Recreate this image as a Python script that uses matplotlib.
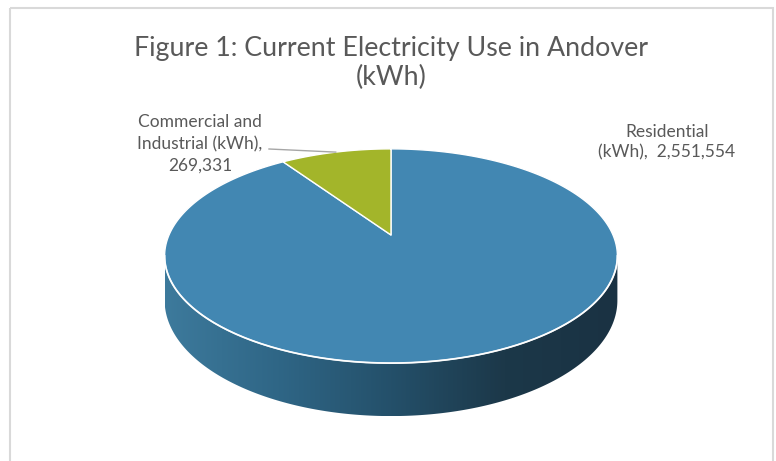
import numpy as np
import matplotlib.pyplot as plt
from matplotlib.patches import Polygon, Rectangle
from matplotlib.colors import LinearSegmentedColormap

plt.rcParams['font.family'] = ['Lato', 'DejaVu Sans']

title = 'Figure 1: Current Electricity Use in Andover\n(kWh)'
labels = ['Residential\n(kWh),  2,551,554', 'Commercial and\nIndustrial (kWh),\n269,331']
values = [2551554, 269331]
colors = ['#4287b2', '#a3b52a']
text_col = '#595959'

W, H = 776, 461
fig = plt.figure(figsize=(W / 100, H / 100), dpi=100)
ax = fig.add_axes([0, 0, 1, 1])
ax.set_xlim(0, W)
ax.set_ylim(H, 0)
ax.axis('off')

# chart frame
ax.add_patch(Rectangle((9.5, 8.5), 763.5, 480, fill=False, ec='#d9d9d9', lw=1.5))

# 3d pie: unit disk seen in perspective
cx, cy = 391, 235
sx, sy, k = 222, 103, 0.196
h0 = 42.6


def proj(phi, drop=0.0):
    X = np.sin(phi)
    Z = np.cos(phi)
    d = 1 + k * Z
    return cx + sx * X / d, cy - sy * Z / d + drop / d


# side wall (near half)
pa = np.arccos(-k)
pb = 2 * np.pi - pa
t = np.linspace(pa, pb, 200)
tx, ty = proj(t)
bx, by = proj(t[::-1], h0)
side = np.column_stack([np.r_[tx, bx], np.r_[ty, by]])
poly = Polygon(side, closed=True, fc='none', ec='none')
ax.add_patch(poly)
cmap = LinearSegmentedColormap.from_list(
    'side', ['#3d7a9c', '#2f6686', '#24506a', '#1c3849', '#1a3243'])
grad = np.linspace(0, 1, 256)[None, :]
im = ax.imshow(grad, cmap=cmap, aspect='auto',
               extent=[side[:, 0].min(), side[:, 0].max(), side[:, 1].max(), side[:, 1].min()],
               zorder=1)
im.set_clip_path(poly)

# top faces
fracs = np.array(values) / np.sum(values)
bounds = np.r_[0, np.cumsum(fracs)] * 2 * np.pi
for i in range(len(values)):
    a = np.linspace(bounds[i], bounds[i + 1], 300)
    px, py = proj(a)
    pts = np.column_stack([np.r_[cx, px], np.r_[cy, py]])
    ax.add_patch(Polygon(pts, closed=True, fc=colors[i], ec='white', lw=1.0,
                         joinstyle='round', zorder=2))

# front rim highlight
ax.plot(tx, ty, color='white', lw=1.3, alpha=0.9, zorder=3)

# title
ax.text(391, 63, title, ha='center', va='center', fontsize=19.3,
        color=text_col, linespacing=1.23)

# data labels
ax.text(667, 142, labels[0], ha='center', va='center', fontsize=12.5,
        color=text_col, linespacing=1.3)
mid = (bounds[1] + bounds[2]) / 2
mx, my = proj(mid)
ax.text(200, 144, labels[1], ha='center', va='center', fontsize=12.5,
        color=text_col, linespacing=1.45)
ax.plot([269, mx], [149, my], color='#a6a6a6', lw=1.0, zorder=4)

fig.savefig('out.png', dpi=100)
